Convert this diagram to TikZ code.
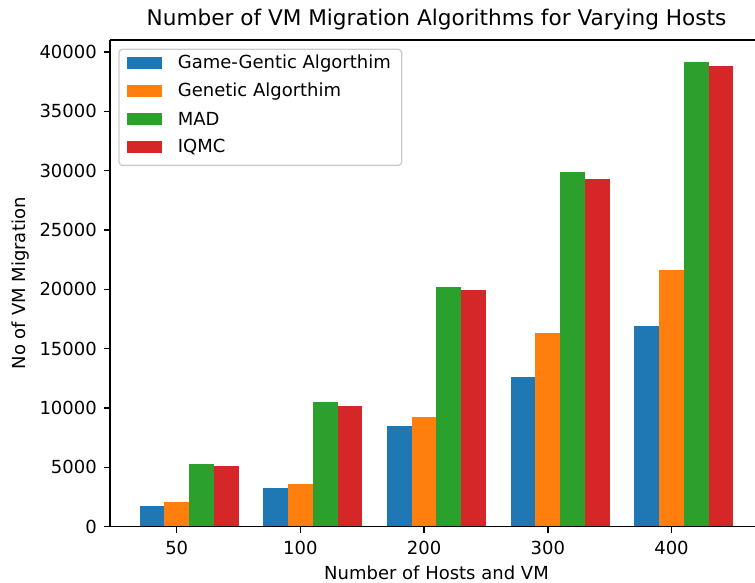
\documentclass[tikz,border=0pt]{standalone}
\usepackage{fontspec}
\setmainfont{DejaVu Sans}
\usetikzlibrary{positioning}

\definecolor{tabblue}{HTML}{1F77B4}
\definecolor{taborange}{HTML}{FF7F0E}
\definecolor{tabgreen}{HTML}{2CA02C}
\definecolor{tabred}{HTML}{D62728}
\definecolor{framegray}{gray}{0.8}

\tikzset{
  spine/.style={line width=1.08pt},
  ticktext/.style={font=\fontsize{13.5}{16}\selectfont, inner sep=0pt},
  labeltext/.style={font=\fontsize{13.5}{16}\selectfont, inner sep=0pt},
  titletext/.style={font=\fontsize{16.2}{19}\selectfont, inner sep=0pt},
  keypatch/.style={minimum width=26.7pt, minimum height=9.2pt, inner sep=0pt},
  keytext/.style={font=\fontsize{13.5}{16}\selectfont, inner sep=0pt, right=11.25pt of #1}
}

\begin{document}
\begin{tikzpicture}[x=92.775pt, y=8.9pt]
  \useasboundingbox (-1.4285,-4.744) rectangle (4.675,44.38);

  % bars (values in thousands)
  \fill [tabblue]   (-0.3,0) rectangle (-0.1,1.72);
  \fill [taborange] (-0.1,0) rectangle (0.1,2.06);
  \fill [tabgreen]  (0.1,0) rectangle (0.3,5.26);
  \fill [tabred]    (0.3,0) rectangle (0.5,5.14);
  \fill [tabblue]   (0.7,0) rectangle (0.9,3.29);
  \fill [taborange] (0.9,0) rectangle (1.1,3.60);
  \fill [tabgreen]  (1.1,0) rectangle (1.3,10.49);
  \fill [tabred]    (1.3,0) rectangle (1.5,10.15);
  \fill [tabblue]   (1.7,0) rectangle (1.9,8.52);
  \fill [taborange] (1.9,0) rectangle (2.1,9.28);
  \fill [tabgreen]  (2.1,0) rectangle (2.3,20.19);
  \fill [tabred]    (2.3,0) rectangle (2.5,19.96);
  \fill [tabblue]   (2.7,0) rectangle (2.9,12.62);
  \fill [taborange] (2.9,0) rectangle (3.1,16.31);
  \fill [tabgreen]  (3.1,0) rectangle (3.3,29.85);
  \fill [tabred]    (3.3,0) rectangle (3.5,29.30);
  \fill [tabblue]   (3.7,0) rectangle (3.9,16.87);
  \fill [taborange] (3.9,0) rectangle (4.1,21.65);
  \fill [tabgreen]  (4.1,0) rectangle (4.3,39.19);
  \fill [tabred]    (4.3,0) rectangle (4.5,38.85);

  % axes
  \draw [spine] (-0.539,41.01) -- (-0.539,0) -- (4.675,0);
  \draw [spine] (-0.539,41.01) -- (4.675,41.01);

  \foreach \v in {0,5,...,40}
    \draw [spine] (-0.539,\v) -- ++(-4.7pt,0) node [ticktext, left=4.7pt] (ytick\v) {\ifnum\v=0 0\else\v000\fi};
  \foreach \x/\n in {0/50,1/100,2/200,3/300,4/400}
    \draw [spine] (\x,0) -- ++(0,-4.7pt) node [ticktext, below=6pt] (xtick\n) {\n};

  \node [labeltext] (xlabel) at (2.10,-3.90) {Number of Hosts and VM};
  \node [labeltext, rotate=90] (ylabel) at (-1.2587,20.5) {No of VM Migration};
  \node [titletext, anchor=base] (title) at (2.10,42.19) {Number of VM Migration Algorithms for Varying Hosts};

  % legend
  \draw [framegray, fill=white, rounded corners=2.7pt, line width=1pt] (-0.4665,30.44) rectangle (1.8189,40.23);
  \node [keypatch, fill=tabblue] (keyGGA) at (-0.2603,39.05) {};
  \node [keypatch, fill=taborange, below=11.4pt of keyGGA] (keyGA) {};
  \node [keypatch, fill=tabgreen, below=11.4pt of keyGA] (keyMAD) {};
  \node [keypatch, fill=tabred, below=11.4pt of keyMAD] (keyIQMC) {};
  \node [keytext=keyGGA] (txtGGA) {Game-Gentic Algorthim};
  \node [keytext=keyGA] (txtGA) {Genetic Algorthim};
  \node [keytext=keyMAD] (txtMAD) {MAD};
  \node [keytext=keyIQMC] (txtIQMC) {IQMC};
\end{tikzpicture}
\end{document}
